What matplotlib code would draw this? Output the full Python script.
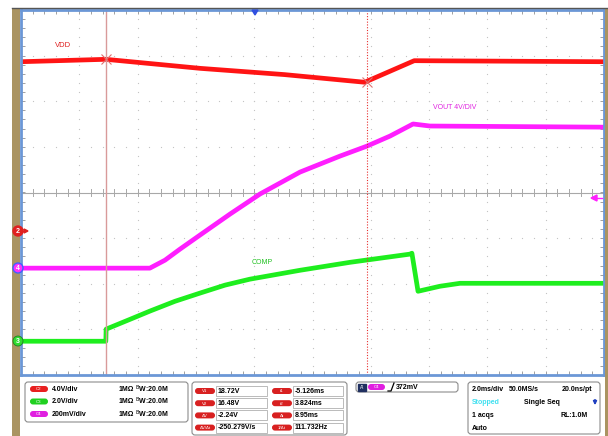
import numpy as np
import matplotlib.pyplot as plt
from matplotlib.patches import FancyBboxPatch, Rectangle, Circle, Polygon

plt.rcParams['font.family'] = ['Liberation Sans', 'DejaVu Sans']

W, H = 608, 436

# horizontal: 2 ms/div, trigger at t = 0
t_left = -8.04
ms_div = 2.0

# channel setup: volts/div and ground marker position (div)
ch2_scale, ch2_off = 4.0, -0.846
ch3_scale, ch3_off = 2.0, -3.26
ch4_scale, ch4_off = 200.0, -1.658

# VDD (C2, V)
vdd_t = [-8.04, -5.13, -1.90, 1.0, 3.75, 5.45, 11.96]
vdd_v = [14.85, 15.06, 14.27, 13.72, 13.05, 14.94, 14.85]

# VOUT (C4, mV)
vout_t = [-8.04, -3.62, -3.10, -2.59, -1.90, -0.87, 0.16, 1.53, 2.90, 3.83, 4.62, 5.41, 5.99, 11.96]
vout_mv = [0, 0, 35, 83, 145, 237, 325, 421, 491, 535, 579, 632, 623, 618]

# COMP (C3, V)
comp_t = [-8.04, -5.13, -5.12, -4.30, -3.62, -2.76, -1.90, -1.04, -0.19, 1.53, 3.25, 5.31, 5.37, 5.58, 6.33, 7.02, 11.96]
comp_v = [0.0, 0.0, 0.53, 0.96, 1.32, 1.75, 2.11, 2.46, 2.72, 3.11, 3.46, 3.82, 3.86, 2.19, 2.41, 2.54, 2.54]

# cursors
t1, t2 = -5.126, 3.824

fig = plt.figure(figsize=(W / 100, H / 100), dpi=100)
fig.patch.set_facecolor('white')

ax = fig.add_axes([21 / W, 1 - 375 / H, 583 / W, 365 / H])
ax.set_xlim(t_left, t_left + 10 * ms_div)
ax.set_ylim(-4, 4)
ax.set_facecolor('white')

# dotted graticule
for k in range(1, 10):
    x = t_left + k * ms_div
    ys = np.arange(-4, 4.01, 0.2)
    ax.plot([x] * len(ys), ys, ls='none', marker='s', ms=0.8, color='#c4c4c4', mew=0)
for j in range(-3, 4):
    if j == 0:
        continue
    xs = t_left + np.arange(0, 20.01, 0.4)
    ax.plot(xs, [j] * len(xs), ls='none', marker='s', ms=0.8, color='#c4c4c4', mew=0)
# centre line with ticks
ax.axhline(0, color='#a8a8a8', lw=0.8)
for x in t_left + np.arange(0, 20.01, 0.4):
    ax.plot([x, x], [-0.07, 0.07], color='#a8a8a8', lw=0.7)

ax.set_xticks(t_left + np.arange(0, 20.01, 0.4))
ax.set_yticks(np.arange(-4, 4.01, 0.2))
ax.tick_params(direction='in', length=3, width=0.6, color='#909090',
               top=True, right=True, labelbottom=False, labelleft=False)
for s in ax.spines.values():
    s.set_color('#6b97d6')
    s.set_linewidth(2)

# traces
ax.plot(vdd_t, ch2_off + np.array(vdd_v) / ch2_scale, color='#ff1414', lw=3.4,
        solid_capstyle='butt', solid_joinstyle='round')
ax.plot(vout_t, ch4_off + np.array(vout_mv) / ch4_scale, color='#ff1eff', lw=3.4,
        solid_capstyle='butt', solid_joinstyle='round')
ax.plot(comp_t, ch3_off + np.array(comp_v) / ch3_scale, color='#1eee1e', lw=3.4,
        solid_capstyle='butt', solid_joinstyle='round')

# cursors
ax.axvline(t1, color='#d99a9a', lw=1.0)
ax.axvline(t2, color='#e83030', lw=0.8, ls=(0, (1, 1.5)))
ax.plot([t1], [ch2_off + 15.06 / ch2_scale], marker='x', ms=7, mew=0.8, color='#e07070')
ax.plot([t2], [ch2_off + 13.1 / ch2_scale], marker='x', ms=7, mew=0.8, color='#e07070')

ax.text(-6.6, 3.23, 'VDD', color='#e02020', fontsize=5.5, ha='center', va='center')
ax.text(6.85, 1.87, 'VOUT 4V/DIV', color='#e020e0', fontsize=5, ha='center', va='center')
ax.text(0.23, -1.53, 'COMP', color='#20c020', fontsize=5, ha='center', va='center')

# overlay in pixel coordinates
fg = fig.add_axes([0, 0, 1, 1], zorder=5)
fg.set_xlim(0, W)
fg.set_ylim(H, 0)
fg.axis('off')
fg.patch.set_alpha(0)

fg.add_patch(Rectangle((12, 8), 8, H - 8, color='#aa9462', lw=0))
fg.add_patch(Rectangle((605, 8), 3, H - 8, color='#aa9462', lw=0))
fg.plot([12, W], [8.3, 8.3], color='#555555', lw=1)

# channel ground markers
fg.add_patch(Circle((18, 231), 5, color='#e02020'))
fg.text(18, 231.5, '2', color='white', fontsize=5, ha='center', va='center', weight='bold')
fg.add_patch(Polygon([[24, 229], [28, 231], [24, 233]], color='#e02020'))
fg.plot([22, 25], [231, 231], color='#e02020', lw=0.8)
fg.add_patch(Circle((18, 268), 5, facecolor='#ff30ff', edgecolor='#4060ff', lw=1))
fg.text(18, 268.5, '4', color='white', fontsize=5, ha='center', va='center', weight='bold')
fg.add_patch(Circle((18, 341), 5, facecolor='#30dd30', edgecolor='#208020', lw=0.6))
fg.text(18, 341.5, '3', color='white', fontsize=5, ha='center', va='center', weight='bold')
fg.add_patch(Polygon([[591, 198], [597, 195], [597, 201]], color='#ff20ff'))
fg.plot([596, 602], [198, 198], color='#ff20ff', lw=1)
fg.add_patch(Polygon([[252, 10], [258, 10], [255, 15]], color='#3050e0'))


def box(x0, y0, x1, y1):
    fg.add_patch(FancyBboxPatch((x0, y0), x1 - x0, y1 - y0, boxstyle='round,pad=0,rounding_size=3',
                                facecolor='white', edgecolor='#8c8c8c', lw=0.8))


def pill(x, y, w, color, label):
    fg.add_patch(FancyBboxPatch((x, y - 3), w, 6, boxstyle='round,pad=0,rounding_size=3',
                                facecolor=color, edgecolor='none'))
    fg.text(x + w / 2, y + 0.3, label, color='white', fontsize=3.2, ha='center', va='center')


fs = 5
box(25, 382, 188, 422)
rows = [('C2', '#e82020', '4.0V/div'), ('C3', '#20d020', '2.0V/div'), ('C4', '#e020e0', '200mV/div')]
for i, (c, col, s) in enumerate(rows):
    y = 389 + i * 12.5
    pill(30, y, 18, col, c)
    fg.text(52, y, s, fontsize=fs, weight='bold', va='center')
    fg.text(119, y, '1MΩ', fontsize=fs, weight='bold', va='center')
    fg.text(135, y, '$^{\\rm B}$W:20.0M', fontsize=fs, weight='bold', va='center')

box(192, 382, 347, 435)
cur_l = [('V1', '18.72V'), ('V2', '16.48V'), ('ΔV', '-2.24V'), ('ΔV/Δt', '-250.279V/s')]
cur_r = [('t1', '-5.126ms'), ('t2', '3.824ms'), ('Δt', '8.95ms'), ('1/Δt', '111.732Hz')]
for i in range(4):
    y = 391 + i * 12.2
    pill(195, y, 20, '#d82020', cur_l[i][0])
    fg.add_patch(Rectangle((216, y - 5), 51, 10, facecolor='white', edgecolor='#a0a0a0', lw=0.5))
    fg.text(218, y, cur_l[i][1], fontsize=fs, weight='bold', va='center')
    pill(272, y, 20, '#d82020', cur_r[i][0])
    fg.add_patch(Rectangle((293, y - 5), 50, 10, facecolor='white', edgecolor='#a0a0a0', lw=0.5))
    fg.text(295, y, cur_r[i][1], fontsize=fs, weight='bold', va='center')

box(356, 382, 458, 392)
fg.add_patch(Rectangle((358, 383.5), 8, 7, color='#203060'))
fg.text(362, 387, "A'", color='white', fontsize=3.5, ha='center', va='center')
pill(368, 387, 17, '#e020e0', 'C4')
fg.plot([388, 391, 394], [391, 391, 383], color='black', lw=0.9)
fg.text(396, 387, '372mV', fontsize=fs, weight='bold', va='center')

box(468, 382, 600, 434)
fg.text(472, 389, '2.0ms/div', fontsize=fs, weight='bold', va='center')
fg.text(509, 389, '50.0MS/s', fontsize=fs, weight='bold', va='center')
fg.text(592, 389, '20.0ns/pt', fontsize=fs, weight='bold', va='center', ha='right')
fg.text(472, 402, 'Stopped', fontsize=fs, weight='bold', va='center', color='#40e0f0')
fg.text(524, 402, 'Single Seq', fontsize=fs, weight='bold', va='center')
fg.annotate('', xy=(595, 408), xytext=(595, 397),
            arrowprops=dict(arrowstyle='-|>', color='#2040c0', lw=1.2, mutation_scale=5))
fg.text(472, 415, '1 acqs', fontsize=fs, weight='bold', va='center')
fg.text(588, 415, 'RL:1.0M', fontsize=fs, weight='bold', va='center', ha='right')
fg.text(472, 428, 'Auto', fontsize=fs, weight='bold', va='center')

fig.savefig('out.png', dpi=100)
